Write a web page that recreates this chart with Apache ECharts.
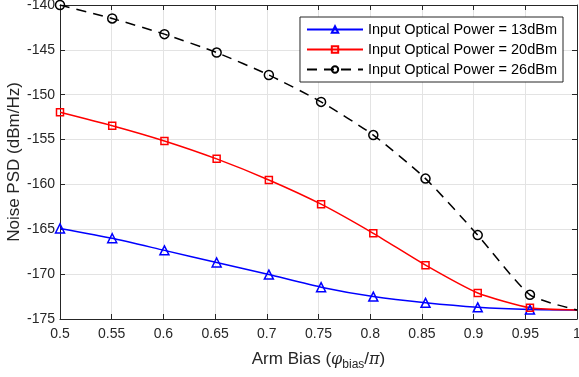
<!DOCTYPE html>
<html>
<head>
<meta charset="utf-8">
<script src="https://cdn.jsdelivr.net/npm/echarts@6/dist/echarts.min.js"></script>
<style>
html,body{margin:0;padding:0;background:#fff;}
#chart{width:579px;height:377px;}
</style>
</head>
<body>
<div id="chart"></div>
<script>
// Arm bias values (phi_bias/pi) at the marker positions, plus the line end at 1
const armBias = [0.5, 0.5505, 0.6010, 0.6515, 0.7020, 0.7525, 0.8030, 0.8535, 0.9040, 0.9545, 1.0];
const psd13dBm = [-164.9, -166.0, -167.35, -168.7, -170.05, -171.45, -172.5, -173.2, -173.7, -173.95, -174.0];
const psd20dBm = [-151.95, -153.45, -155.15, -157.15, -159.5, -162.2, -165.45, -169.0, -172.1, -173.75, -174.0];
const psd26dBm = [-140.0, -141.5, -143.25, -145.3, -147.8, -150.8, -154.5, -159.35, -165.65, -172.3, -174.0];
const seriesNames = ['Input Optical Power = 13dBm', 'Input Optical Power = 20dBm', 'Input Optical Power = 26dBm'];
const xTicks = [0.5, 0.55, 0.6, 0.65, 0.7, 0.75, 0.8, 0.85, 0.9, 0.95, 1];
const yTicks = [-175, -170, -165, -160, -155, -150, -145, -140];

const FONT = 'Liberation Sans, Arial, Helvetica, sans-serif';
const AX = '#262626';

function pts(vals) {
  return armBias.map((x, i) => {
    const p = { value: [x, vals[i]] };
    if (i === armBias.length - 1) p.symbol = 'none';
    return p;
  });
}

function mkSeries(name, vals, color, symbol, size, dashed) {
  return {
    name: name,
    type: 'line',
    data: pts(vals),
    smooth: 0.2,
    symbol: symbol,
    symbolSize: size,
    showAllSymbol: true,
    lineStyle: { color: color, width: 1.5, type: dashed ? [10, 7] : 'solid' },
    itemStyle: { color: 'rgba(255,255,255,0)', borderColor: color, borderWidth: 1.5 },
    emphasis: { disabled: true },
    z: 3
  };
}

const chart = echarts.init(document.getElementById('chart'), null, { renderer: 'canvas' });
chart.setOption({
  animation: false,
  backgroundColor: '#fff',
  grid: { left: 60, right: 2, top: 5, bottom: 58, containLabel: false, outerBoundsMode: 'none' },
  legend: {
    orient: 'vertical',
    right: 16,
    top: 17,
    itemWidth: 56,
    itemHeight: 8,
    itemGap: 5,
    padding: [5, 6, 5, 6],
    backgroundColor: '#fff',
    borderColor: AX,
    borderWidth: 1,
    textStyle: { fontFamily: FONT, fontSize: 14.5, color: '#000' },
    data: seriesNames
  },
  xAxis: [{
    type: 'value', min: 0.5, max: 1, interval: 0.05,
    name: '{n|Arm Bias (}{i|φ}{s|bias}{n|/}{i|π}{n|)}',
    nameLocation: 'middle', nameGap: 29, nameMoveOverlap: false,
    nameTextStyle: {
      rich: {
        n: { fontFamily: FONT, fontSize: 17, color: AX },
        i: { fontFamily: 'DejaVu Serif, serif', fontStyle: 'italic', fontSize: 16, color: AX },
        s: { fontFamily: FONT, fontSize: 12, color: AX, padding: [11, 0, 0, 0] }
      }
    },
    axisLine: { show: true, lineStyle: { color: AX, width: 1 } },
    axisTick: { show: true, inside: true, length: 5, lineStyle: { color: AX } },
    axisLabel: { fontFamily: FONT, fontSize: 14, color: AX, margin: 8,
      formatter: v => { const t = xTicks.find(x => Math.abs(x - v) < 1e-6); return t === undefined ? '' : String(t); } },
    splitLine: { show: true, lineStyle: { color: '#e3e3e3', width: 1 } }
  }, {
    type: 'value', position: 'top', min: 0.5, max: 1, interval: 0.05,
    axisLine: { show: true, onZero: false, lineStyle: { color: AX, width: 1 } },
    axisTick: { show: true, inside: true, length: 5, lineStyle: { color: AX } },
    axisLabel: { show: false }, splitLine: { show: false }
  }],
  yAxis: [{
    type: 'value', min: -175, max: -140, interval: 5,
    name: 'Noise PSD (dBm/Hz)',
    nameLocation: 'middle', nameGap: 37, nameMoveOverlap: false,
    nameTextStyle: { fontFamily: FONT, fontSize: 17, color: AX },
    axisLine: { show: true, onZero: false, lineStyle: { color: AX, width: 1 } },
    axisTick: { show: true, inside: true, length: 5, lineStyle: { color: AX } },
    axisLabel: { fontFamily: FONT, fontSize: 14, color: AX, margin: 5,
      formatter: v => { const t = yTicks.find(y => Math.abs(y - v) < 1e-6); return t === undefined ? '' : String(t); } },
    splitLine: { show: true, lineStyle: { color: '#e3e3e3', width: 1 } }
  }, {
    type: 'value', position: 'right', min: -175, max: -140, interval: 5,
    axisLine: { show: true, onZero: false, lineStyle: { color: AX, width: 1 } },
    axisTick: { show: true, inside: true, length: 5, lineStyle: { color: AX } },
    axisLabel: { show: false }, splitLine: { show: false }
  }],
  series: [
    mkSeries(seriesNames[0], psd13dBm, '#0000ff', 'triangle', 9, false),
    mkSeries(seriesNames[1], psd20dBm, '#ff0000', 'rect', 7, false),
    mkSeries(seriesNames[2], psd26dBm, '#000000', 'circle', 9, true)
  ]
});
</script>
</body>
</html>
